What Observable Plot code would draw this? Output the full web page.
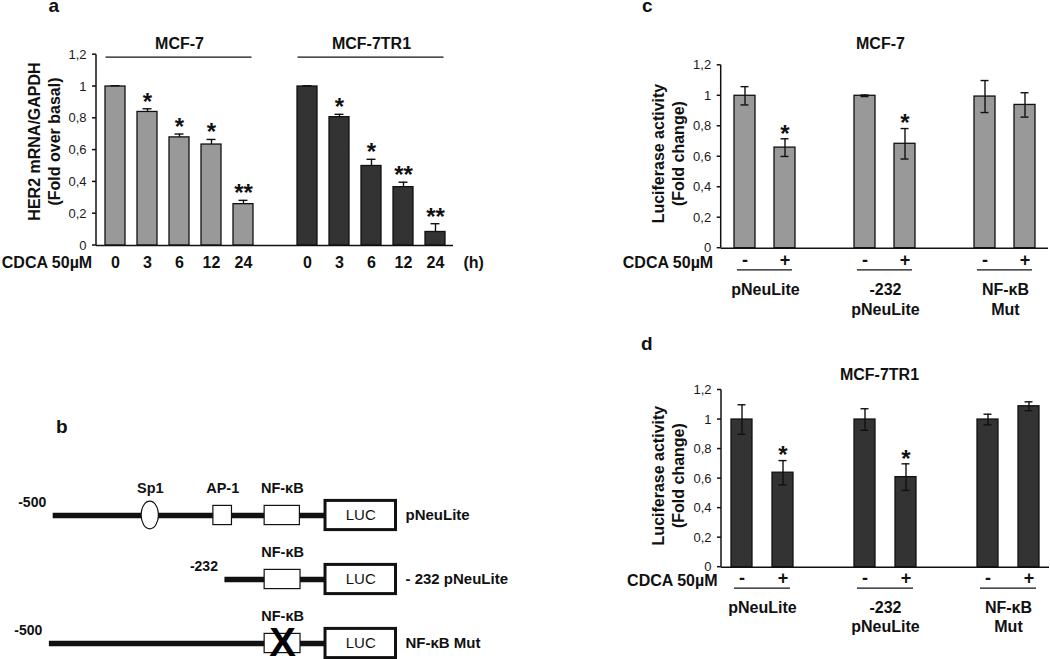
<!DOCTYPE html>
<html>
<head>
<meta charset="utf-8">
<script src="https://cdn.jsdelivr.net/npm/d3@7"></script>
<script src="https://cdn.jsdelivr.net/npm/@observablehq/plot@0.6"></script>
<style>
  body { margin: 0; background: #fff; }
  #root { position: relative; width: 1050px; height: 659px; overflow: hidden; background: #fff;
          font-family: "Liberation Sans", Arial, Helvetica, sans-serif; color: #111; }
  .panel { position: absolute; }
  .letter { position: absolute; font-weight: bold; font-size: 19px; line-height: 10px; }
</style>
</head>
<body>
<div id="root">
  <div class="letter" style="left:48.5px;top:0.6px">a</div>
  <div class="letter" style="left:56px;top:421.7px">b</div>
  <div class="letter" style="left:642px;top:1.4px">c</div>
  <div class="letter" style="left:641px;top:339.1px">d</div>
</div>
<script>
// ---------------- DATA ----------------
// Panel a: HER2 mRNA / GAPDH (fold over basal)
const timeLabels = ["0", "3", "6", "12", "24"];
const cellLines = ["MCF-7", "MCF-7TR1"];
const mcf7mRNA = [1.00, 0.84, 0.68, 0.635, 0.26];
const mcf7mRNAErr = [0.005, 0.02, 0.021, 0.032, 0.024];
const tr1mRNA = [1.00, 0.807, 0.50, 0.367, 0.085];
const tr1mRNAErr = [0.005, 0.018, 0.042, 0.031, 0.052];
const mcf7Stars = ["", "*", "*", "*", "**"];
const tr1Stars = ["", "*", "*", "**", "**"];
const yTicks = [0, 0.2, 0.4, 0.6, 0.8, 1, 1.2];

// Panels c, d: luciferase activity (fold change)
const constructs = ["pNeuLite", "-232\npNeuLite", "NF-κB\nMut"];
const treatment = ["-", "+"];
const lucMCF7 = [1.00, 0.66, 1.00, 0.685, 0.995, 0.94];
const lucMCF7Err = [0.06, 0.058, 0.005, 0.10, 0.105, 0.08];
const lucTR1 = [1.00, 0.64, 1.00, 0.61, 1.00, 1.09];
const lucTR1Err = [0.10, 0.082, 0.073, 0.09, 0.036, 0.03];
const lucStarsMCF7 = ["", "*", "", "*", "", ""];
const lucStarsTR1 = ["", "*", "", "*", "", ""];

// Panel b: promoter constructs (positions in bp, schematic)
const bConstructs = ["pNeuLite", "- 232 pNeuLite", "NF-κB Mut"];
const bStart = [-500, -232, -506];
const bStartLabels = ["-500", "-232", "-500"];
const lucRange = [-75, 35];
const siteRow = [0, 0, 0, 1, 2];
const siteName = ["Sp1", "AP-1", "NF-κB", "NF-κB", "NF-κB"];
const siteShape = ["ellipse", "box", "box", "box", "box"];
const siteFrom = [-362, -250, -170, -170, -170];
const siteTo = [-335, -221, -115, -114, -114];
const siteMutated = [false, false, false, false, true];

// ---------------- STYLE ----------------
const FONT = '"Liberation Sans", Arial, Helvetica, sans-serif';
const INK = "#111";
const GRAY = "#999999";
const DARK = "#333333";
const fmtComma = d => String(d).replace(".", ",");
const baseStyle = {fontFamily: FONT, fontSize: "13px", color: INK, background: "transparent", overflow: "visible"};
const bold16 = {fontSize: 16, fontWeight: "bold", fill: INK, lineAnchor: "middle"};

// left axis line + tick marks, drawn from the plot's own y scale
function leftAxis(sw = 1.5, tickLen = 4) {
  return (index, scales, values, dims) => {
    const g = d3.create("svg:g").attr("stroke", INK).attr("stroke-width", sw);
    g.append("line")
      .attr("x1", dims.marginLeft).attr("x2", dims.marginLeft)
      .attr("y1", dims.marginTop).attr("y2", dims.height - dims.marginBottom);
    for (const t of yTicks) {
      const y = scales.y(t);
      g.append("line").attr("x1", dims.marginLeft - tickLen).attr("x2", dims.marginLeft).attr("y1", y).attr("y2", y);
    }
    return g.node();
  };
}
function yTickLabels(dx = -10) {
  return Plot.text(yTicks, {y: d => d, text: fmtComma, frameAnchor: "left", textAnchor: "end", lineAnchor: "middle", dx, fontSize: 13, fill: "#1a1a1a"});
}

function place(node, left, top, width) {
  const div = document.createElement("div");
  div.className = "panel";
  div.style.left = left + "px";
  div.style.top = top + "px";
  div.style.width = width + "px";
  div.appendChild(node);
  document.getElementById("root").appendChild(div);
}

// ---------------- PANEL A ----------------
const aSlots = [];
cellLines.forEach((l, li) => { if (li) aSlots.push("gap"); timeLabels.forEach(t => aSlots.push(l + "|" + t)); });
const mRNA = [mcf7mRNA, tr1mRNA], mRNAErr = [mcf7mRNAErr, tr1mRNAErr], mRNAStars = [mcf7Stars, tr1Stars];
const aData = cellLines.flatMap((l, li) => timeLabels.map((t, i) => ({
  slot: l + "|" + t, line: l, time: t, value: mRNA[li][i], err: mRNAErr[li][i], star: mRNAStars[li][i]
})));

const plotA = Plot.plot({
  width: 500, height: 300, marginLeft: 96, marginRight: 47, marginTop: 54.2, marginBottom: 55,
  style: baseStyle,
  x: {domain: aSlots, paddingInner: 0.38, paddingOuter: 0.19, axis: null},
  y: {domain: [0, 1.2], axis: null},
  color: {domain: cellLines, range: [GRAY, DARK]},
  marks: [
    Plot.barY(aData, {x: "slot", y: "value", fill: "line", stroke: INK, strokeWidth: 1.3}),
    Plot.ruleX(aData, {x: "slot", y1: "value", y2: d => d.value + d.err, stroke: INK, strokeWidth: 1.4}),
    Plot.tickY(aData, {x: "slot", y: d => d.value + d.err, stroke: INK, strokeWidth: 1.4, insetLeft: 5.5, insetRight: 5.5}),
    Plot.ruleY([0], {stroke: INK, strokeWidth: 1.5}),
    leftAxis(),
    yTickLabels(-10),
    Plot.text(aData.filter(d => d.star), {x: "slot", y: d => d.value + d.err, text: "star", dy: -6.8, fontSize: 24, fontWeight: "bold", fill: INK}),
    Plot.text(aData, {x: "slot", text: "time", frameAnchor: "bottom", textAnchor: "middle", dy: 17.6, ...bold16}),
    Plot.text(["CDCA 50µM"], {text: d => d, frameAnchor: "bottom-left", textAnchor: "end", dx: -4.3, dy: 17.6, ...bold16}),
    Plot.text(["(h)"], {text: d => d, frameAnchor: "bottom-right", textAnchor: "start", dx: 10, dy: 17.6, ...bold16}),
    Plot.text(cellLines, {x: l => l + "|" + timeLabels[2], text: d => d, frameAnchor: "top", textAnchor: "middle", dy: -10.4, ...bold16}),
    Plot.ruleY(cellLines, {x1: l => l + "|" + timeLabels[0], x2: l => l + "|" + timeLabels[timeLabels.length - 1], y: () => 1.2, dy: 2.5, insetLeft: 0.5, insetRight: 1.5, stroke: INK, strokeWidth: 1.3}),
    Plot.text(["HER2 mRNA/GAPDH\n(Fold over basal)"], {text: d => d, frameAnchor: "left", textAnchor: "middle", rotate: -90, dx: -53, dy: -8.6, lineHeight: 1.25, ...bold16})
  ]
});
place(plotA, 0, 0, 500);

// ---------------- PANELS C & D ----------------
function lucPanel(o) {
  const slots = [];
  constructs.forEach((c, ci) => { if (ci) slots.push("gap" + ci); treatment.forEach(t => slots.push(ci + "|" + t)); });
  const data = constructs.flatMap((c, ci) => treatment.map((t, ti) => {
    const k = ci * treatment.length + ti;
    return {slot: ci + "|" + t, ci, treat: t, value: o.vals[k], err: o.errs[k], star: o.stars[k]};
  }));
  const step = (o.width - o.ml - o.mr) / slots.length;
  const groups = constructs.map((c, ci) => ({label: c, first: ci + "|" + treatment[0], last: ci + "|" + treatment[1]}));
  return Plot.plot({
    width: o.width, height: o.height, marginLeft: o.ml, marginRight: o.mr, marginTop: o.mt, marginBottom: o.mb,
    style: baseStyle,
    x: {domain: slots, paddingInner: 0.487, paddingOuter: 0.2435, axis: null},
    y: {domain: [0, 1.2], axis: null},
    marks: [
      Plot.barY(data, {x: "slot", y: "value", fill: o.fill, stroke: INK, strokeWidth: 1.3}),
      Plot.ruleX(data, {x: "slot", y1: d => d.value - d.err, y2: d => d.value + d.err, stroke: INK, strokeWidth: 1.4}),
      Plot.tickY(data, {x: "slot", y: d => d.value + d.err, stroke: INK, strokeWidth: 1.4, insetLeft: 6.5, insetRight: 6.5}),
      Plot.tickY(data, {x: "slot", y: d => d.value - d.err, stroke: INK, strokeWidth: 1.4, insetLeft: 6.5, insetRight: 6.5}),
      Plot.ruleY([0], {stroke: INK, strokeWidth: 1.5}),
      leftAxis(),
      yTickLabels(-10),
      Plot.text(data.filter(d => d.star), {x: "slot", y: d => d.value + d.err, text: "star", dy: -4.8, fontSize: 24, fontWeight: "bold", fill: INK}),
      Plot.text(data, {x: "slot", text: "treat", frameAnchor: "bottom", textAnchor: "middle", lineAnchor: "middle", dy: o.treatDy, fontSize: 18, fontWeight: "bold", fill: INK}),
      Plot.ruleY(groups, {x1: "first", x2: "last", y: () => 0, dy: o.lineDy, insetLeft: 3, insetRight: 3, stroke: INK, strokeWidth: 1.3}),
      Plot.text(groups, {x: "first", text: "label", dx: step / 2, frameAnchor: "bottom", textAnchor: "middle", dy: o.labelDy, lineHeight: o.lineHeight, ...bold16, lineAnchor: "top"}),
      Plot.text(["CDCA 50µM"], {text: d => d, frameAnchor: "bottom-left", textAnchor: "end", dx: o.cdcaDx, dy: o.cdcaDy, ...bold16}),
      Plot.text([o.title], {text: d => d, frameAnchor: "top", textAnchor: "middle", dx: o.titleDx, dy: o.titleDy, ...bold16}),
      Plot.text(["Luciferase activity\n(Fold change)"], {text: d => d, frameAnchor: "left", textAnchor: "middle", rotate: -90, dx: o.ylabDx, dy: o.ylabDy, lineHeight: 1.25, ...bold16})
    ]
  });
}

const plotC = lucPanel({
  vals: lucMCF7, errs: lucMCF7Err, stars: lucStarsMCF7, fill: GRAY, title: cellLines[0],
  width: 490, height: 320, ml: 160.7, mr: 2, mt: 64.8, mb: 72.3,
  treatDy: 11.6, lineDy: 21.6, labelDy: 32.6, lineHeight: 1.25,
  cdcaDx: -8, cdcaDy: 14.9, titleDx: -4.4, titleDy: -21.5, ylabDx: -54, ylabDy: -3.2
});
place(plotC, 560, 0, 490);

const plotD = lucPanel({
  vals: lucTR1, errs: lucTR1Err, stars: lucStarsTR1, fill: DARK, title: cellLines[1],
  width: 490, height: 339, ml: 161, mr: 1, mt: 69.5, mb: 92.3,
  treatDy: 11, lineDy: 21, labelDy: 32.6, lineHeight: 1.19,
  cdcaDx: -4, cdcaDy: 13.9, titleDx: -6, titleDy: -15.6, ylabDx: -54.3, ylabDy: -3
});
place(plotD, 560, 320, 490);

// ---------------- PANEL B ----------------
const bRows = bConstructs.map((c, i) => ({construct: c, start: bStart[i], label: bStartLabels[i]}));
const sites = siteName.map((n, i) => ({
  construct: bConstructs[siteRow[i]], name: n, shape: siteShape[i], from: siteFrom[i], to: siteTo[i], mutated: siteMutated[i]
}));
const mid = s => (s.from + s.to) / 2;

const ellipseMark = (index, scales) => {
  const g = d3.create("svg:g");
  for (const s of sites.filter(s => s.shape === "ellipse")) {
    const x1 = scales.x(s.from), x2 = scales.x(s.to);
    g.append("ellipse")
      .attr("cx", (x1 + x2) / 2)
      .attr("cy", scales.y(s.construct) + scales.y.bandwidth() / 2)
      .attr("rx", (x2 - x1) / 2).attr("ry", 13.8)
      .attr("fill", "white").attr("stroke", INK).attr("stroke-width", 1.2);
  }
  return g.node();
};

const plotB = Plot.plot({
  width: 560, height: 279, marginLeft: 52.7, marginRight: 164.5, marginTop: 0, marginBottom: 0,
  style: baseStyle,
  x: {domain: [bStart[0], lucRange[1]], axis: null},
  y: {domain: bConstructs, range: [101.9, 296.4], padding: 0, axis: null},
  marks: [
    Plot.ruleY(bRows, {y: "construct", x1: "start", x2: () => lucRange[0], stroke: INK, strokeWidth: 5.5}),
    Plot.barX(sites.filter(s => s.shape === "box"), {y: "construct", x1: "from", x2: "to", fill: "white", stroke: INK, strokeWidth: 1.2, insetTop: 22.4, insetBottom: 22.4}),
    ellipseMark,
    Plot.barX(bRows, {y: "construct", x1: () => lucRange[0], x2: () => lucRange[1], fill: "white", stroke: INK, strokeWidth: 3, insetTop: 17.4, insetBottom: 17.4}),
    Plot.text(bRows, {y: "construct", x: () => (lucRange[0] + lucRange[1]) / 2, text: () => "LUC", fontSize: 15, fill: INK}),
    Plot.text(bRows, {y: "construct", x: () => lucRange[1], text: "construct", textAnchor: "start", dx: 9.5, fontSize: 15, fontWeight: "bold", fill: INK}),
    Plot.text(bRows, {y: "construct", x: "start", text: "label", dx: -21, dy: -12.5, fontSize: 14, fontWeight: "bold", fill: INK}),
    Plot.text(sites, {y: "construct", x: mid, text: "name", dy: -27.5, fontSize: 14.5, fontWeight: "bold", fill: INK}),
    Plot.text(sites.filter(s => s.mutated), {y: "construct", x: mid, text: () => "X", fontSize: 40, fontWeight: "bold", fill: "#000",
      fontFamily: '"Liberation Sans Narrow", "Arial Narrow", "Liberation Sans", Arial, sans-serif'})
  ]
});
place(plotB, 0, 380, 560);
</script>
</body>
</html>
